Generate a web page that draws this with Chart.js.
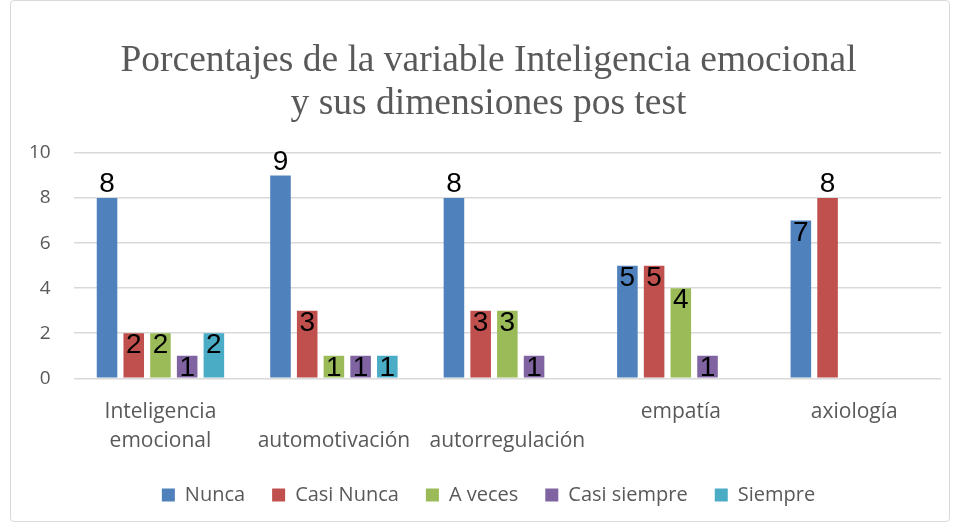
<!DOCTYPE html>
<html>
<head>
<meta charset="utf-8">
<script src="https://cdn.jsdelivr.net/npm/chart.js@4/dist/chart.umd.min.js"></script>
<style>
  html, body { margin: 0; padding: 0; background: #fff; }
  #wrap { position: absolute; left: 0; top: 0; width: 955px; height: 525px; }
  #frame { position: absolute; left: 10px; top: 0px; width: 938px; height: 520px;
           border: 1px solid #d9d9d9; border-radius: 4px; pointer-events: none; }
</style>
</head>
<body>
<div id="wrap">
  <canvas id="myChart" width="955" height="525"></canvas>
  <div id="frame"></div>
</div>
<script>
const categories = [
    ['Inteligencia', 'emocional'],
    ['', 'automotivación'],
    ['', 'autorregulación'],
    ['empatía', ''],
    ['axiología', '']
];
const nunca = [8, 9, 8, 5, 7];
const casiNunca = [2, 3, 3, 5, 8];
const aVeces = [2, 1, 3, 4, null];
const casiSiempre = [1, 1, 1, 1, null];
const siempre = [2, 1, null, null, null];
const yTicks = [0, 2, 4, 6, 8, 10];

const gray = '#595959';
const ctx = document.getElementById('myChart').getContext('2d');

// numbers on the bars: big ones sit above, the rest just inside the top
const barLabels = {
    id: 'barLabels',
    afterDatasetsDraw(chart) {
        const c = chart.ctx;
        c.save();
        c.font = '28px "Liberation Sans", Arial, sans-serif';
        c.fillStyle = '#000';
        c.textAlign = 'center';
        c.textBaseline = 'alphabetic';
        chart.data.datasets.forEach((ds, i) => {
            const meta = chart.getDatasetMeta(i);
            meta.data.forEach((bar, j) => {
                const v = ds.data[j];
                if (v == null) return;
                const y = v >= 8 ? bar.y - 6 : bar.y + 20;
                c.fillText(String(v), bar.x, y);
            });
        });
        c.restore();
    }
};

function ds(label, data, color) {
    return {
        label: label,
        data: data,
        backgroundColor: color,
        borderWidth: 0,
        categoryPercentage: 0.77,
        barPercentage: 0.77
    };
}

const tickFont = { family: '"Open Sans", sans-serif', size: 21, lineHeight: 1.35 };

const myChart = new Chart(ctx, {
    type: 'bar',
    data: {
        labels: categories,
        datasets: [
            ds('Nunca', nunca, '#4F81BD'),
            ds('Casi Nunca', casiNunca, '#C0504D'),
            ds('A veces', aVeces, '#9BBB59'),
            ds('Casi siempre', casiSiempre, '#8064A2'),
            ds('Siempre', siempre, '#4BACC6')
        ]
    },
    options: {
        responsive: false,
        animation: false,
        layout: { padding: { left: 26, right: 4, top: 14, bottom: 10 } },
        plugins: {
            title: {
                display: true,
                text: ['Porcentajes de la variable Inteligencia emocional', 'y sus dimensiones pos test'],
                color: gray,
                font: { family: '"Liberation Serif", "Times New Roman", serif', size: 37.5, weight: 'normal', lineHeight: 1.16 },
                padding: { top: 25, bottom: 27 }
            },
            legend: {
                position: 'bottom',
                labels: {
                    usePointStyle: true,
                    pointStyle: 'rect',
                    boxWidth: 13,
                    boxHeight: 13,
                    padding: 27,
                    color: gray,
                    font: { family: '"Open Sans", sans-serif', size: 20 }
                }
            },
            tooltip: { enabled: false }
        },
        scales: {
            x: {
                grid: { display: false },
                border: { display: false },
                ticks: {
                    color: gray,
                    font: tickFont,
                    maxRotation: 0,
                    autoSkip: false,
                    padding: 12
                },
                afterFit: axis => { axis.height -= 9; }
            },
            y: {
                min: 0,
                max: 10,
                afterBuildTicks: axis => { axis.ticks = yTicks.map(v => ({ value: v })); },
                grid: { color: '#d9d9d9', lineWidth: 1.5, drawTicks: false },
                border: { display: false },
                ticks: {
                    color: gray,
                    font: { family: '"Open Sans", sans-serif', size: 19 },
                    padding: 23
                },
                afterFit: axis => { axis.width -= 20; }
            },
            // empty right axis, only keeps the plot clear of the right frame
            yRight: {
                position: 'right',
                display: true,
                grid: { display: false },
                border: { display: false },
                ticks: { display: false },
                afterFit: axis => { axis.width = 10; }
            }
        }
    },
    plugins: [barLabels]
});
</script>
</body>
</html>
